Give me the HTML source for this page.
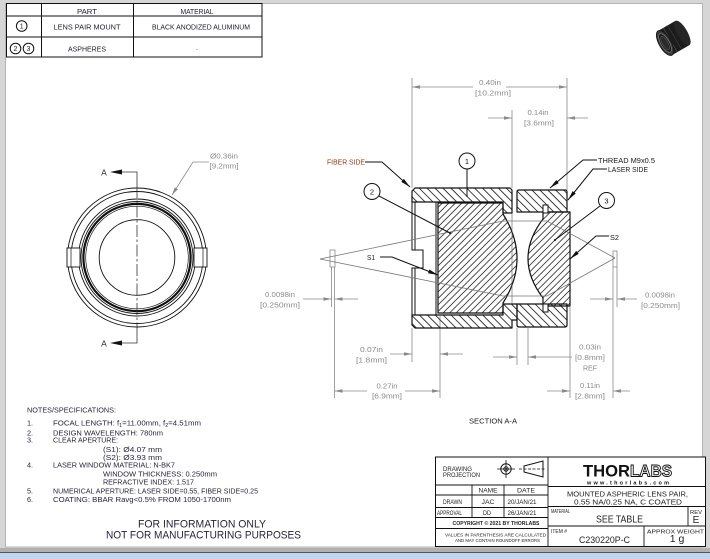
<!DOCTYPE html>
<html><head><meta charset="utf-8">
<style>
html,body{margin:0;padding:0;background:#d4d4d4;}
svg{display:block;}
text{font-family:"Liberation Sans",sans-serif;}
</style></head><body>
<svg width="710" height="559" viewBox="0 0 710 559" xmlns="http://www.w3.org/2000/svg">
<defs>
 <pattern id="hh" patternUnits="userSpaceOnUse" width="5.6" height="5.6" patternTransform="rotate(-45)"><line x1="1" y1="0" x2="1" y2="5.6" stroke="#111" stroke-width="0.8"/></pattern>
 <pattern id="hl" patternUnits="userSpaceOnUse" width="4.6" height="4.6" patternTransform="rotate(45)"><line x1="1" y1="0" x2="1" y2="4.6" stroke="#111" stroke-width="0.75"/></pattern>
 <marker id="ab" markerWidth="10" markerHeight="4" refX="10" refY="2" orient="auto" markerUnits="userSpaceOnUse"><path d="M0,0 L10,2 L0,4 Z" fill="#111"/></marker>
 <marker id="ag" markerWidth="8" markerHeight="3.6" refX="8" refY="1.8" orient="auto" markerUnits="userSpaceOnUse"><path d="M0,0 L8,1.8 L0,3.6 Z" fill="#8a8a8a"/></marker>
</defs>

<!-- window / sheet -->
<rect x="0" y="0" width="710" height="559" fill="#d6d6d6"/>
<rect x="5.5" y="3.5" width="697" height="543.5" fill="#fff" stroke="#b4b4b4" stroke-width="1"/>
<rect x="0" y="548" width="710" height="4" fill="#b0b0b0"/>
<line x1="0" y1="552.5" x2="710" y2="552.5" stroke="#555" stroke-width="1"/>
<rect x="0" y="553" width="710" height="6" fill="#c2d5ec"/>

<!-- parts table -->
<g fill="none" stroke="#111" stroke-width="1">
 <rect x="6.5" y="3.5" width="255.5" height="53.5"/>
 <line x1="6.5" y1="16" x2="262" y2="16"/>
 <line x1="6.5" y1="37" x2="262" y2="37"/>
 <line x1="41.5" y1="3.5" x2="41.5" y2="57"/>
 <line x1="133.5" y1="3.5" x2="133.5" y2="57"/>
 <circle cx="21.7" cy="26" r="5.3"/>
 <circle cx="15.5" cy="48.5" r="5.3"/>
 <circle cx="28.5" cy="48.5" r="5.3"/>
</g>
<g fill="#1b1b2b" font-size="7.2" text-anchor="middle">
 <text x="87" y="14" textLength="20" lengthAdjust="spacingAndGlyphs">PART</text>
 <text x="197" y="14" textLength="33" lengthAdjust="spacingAndGlyphs">MATERIAL</text>
 <text x="21.7" y="28.6" font-size="7">1</text>
 <text x="15.5" y="51.1" font-size="7">2</text>
 <text x="28.5" y="51.1" font-size="7">3</text>
 <text x="87" y="29.3" textLength="67" lengthAdjust="spacingAndGlyphs">LENS PAIR MOUNT</text>
 <text x="201" y="29.3" textLength="98" lengthAdjust="spacingAndGlyphs">BLACK ANODIZED ALUMINUM</text>
 <text x="87" y="51.5" textLength="38" lengthAdjust="spacingAndGlyphs">ASPHERES</text>
 <text x="197" y="51.5" fill="#999">-</text>
</g>

<!-- product image -->
<g transform="translate(672,39) rotate(-30)">
 <rect x="-8" y="-14" width="20" height="28" fill="#1c1c1c"/>
 <ellipse cx="12" cy="0" rx="5" ry="14" fill="#262626"/>
 <line x1="-2" y1="-14" x2="-2" y2="14" stroke="#555" stroke-width="0.6"/>
 <line x1="3" y1="-14" x2="3" y2="14" stroke="#444" stroke-width="0.6"/>
 <ellipse cx="-8" cy="0" rx="6" ry="14" fill="#3a3a3a" stroke="#111" stroke-width="0.8"/>
 <ellipse cx="-8" cy="0" rx="4.2" ry="10.5" fill="#1a1a1a" stroke="#888" stroke-width="0.6"/>
 <ellipse cx="-8" cy="0" rx="2.8" ry="7.5" fill="#2a2a2a" stroke="#666" stroke-width="0.5"/>
</g>

<!-- LEFT END VIEW -->
<g fill="none" stroke="#111" stroke-width="0.9">
 <circle cx="137" cy="257.5" r="69.5"/>
 <circle cx="137" cy="257.5" r="66"/>
 <circle cx="137" cy="257.5" r="58.5"/>
</g>
<rect x="67" y="248" width="13" height="19" fill="#fff" stroke="#111" stroke-width="0.9"/>
<rect x="194" y="248" width="13" height="19" fill="#fff" stroke="#111" stroke-width="0.9"/>
<g fill="none" stroke="#111">
 <line x1="71" y1="248" x2="71" y2="267" stroke-width="0.7"/>
 <line x1="203" y1="248" x2="203" y2="267" stroke-width="0.7"/>
 <circle cx="137" cy="257.5" r="56" stroke-width="0.9"/>
 <circle cx="137" cy="257.5" r="53.6" stroke-width="2.2"/>
 <circle cx="137" cy="257.5" r="51.3" stroke-width="0.7"/>
 <circle cx="137" cy="257.5" r="37.8" stroke-width="0.9"/>
</g>
<g stroke="#333" stroke-width="0.8" fill="none">
 <polyline points="122,172 137,172 137,186"/>
 <line x1="137" y1="186" x2="137" y2="328" stroke-dasharray="12 2.5 2.5 2.5"/>
 <polyline points="137,328 137,343 122,343"/>
</g>
<polygon points="110,172 122,169.5 122,174.5" fill="#111"/>
<polygon points="110,343 122,340.5 122,345.5" fill="#111"/>
<text x="104" y="175.5" font-size="8.5" fill="#223" text-anchor="middle">A</text>
<text x="104" y="346.5" font-size="8.5" fill="#223" text-anchor="middle">A</text>
<polyline points="209,162 193,162 172,195" fill="none" stroke="#8a8a8a" stroke-width="0.8" marker-end="url(#ag)"/>
<g fill="#8a8a8a" font-size="7.3" text-anchor="middle">
 <text x="224" y="158.5" textLength="28" lengthAdjust="spacingAndGlyphs">Ø0.36in</text>
 <text x="224" y="168.5" textLength="29" lengthAdjust="spacingAndGlyphs">[9.2mm]</text>
</g>

<!-- SECTION VIEW: extension lines & dims -->
<g stroke="#8a8a8a" stroke-width="0.8" fill="none">
 <line x1="412" y1="78" x2="412" y2="188"/>
 <line x1="567" y1="78" x2="567" y2="190"/>
 <line x1="512" y1="110" x2="512" y2="188"/>
 <line x1="473" y1="87" x2="412" y2="87" marker-end="url(#ag)"/>
 <line x1="506" y1="87" x2="567" y2="87" marker-end="url(#ag)"/>
 <line x1="488" y1="118" x2="512" y2="118" marker-end="url(#ag)"/>
 <line x1="588" y1="118" x2="567" y2="118" marker-end="url(#ag)"/>
 <!-- windows -->
 <rect x="330" y="250" width="5" height="17"/>
 <rect x="613" y="251" width="4" height="16"/>
 <line x1="331.5" y1="267" x2="331.5" y2="307"/>
 <line x1="334.5" y1="267" x2="334.5" y2="398"/>
 <line x1="613" y1="267" x2="613" y2="398"/>
 <line x1="617" y1="267" x2="617" y2="307"/>
 <line x1="303" y1="299" x2="331.5" y2="299" marker-end="url(#ag)"/>
 <line x1="358" y1="299" x2="334.5" y2="299" marker-end="url(#ag)"/>
 <line x1="590" y1="299" x2="613" y2="299" marker-end="url(#ag)"/>
 <line x1="637" y1="299" x2="617" y2="299" marker-end="url(#ag)"/>
 <!-- bottom ext -->
 <line x1="412" y1="328" x2="412" y2="362"/>
 <line x1="440" y1="316" x2="440" y2="398"/>
 <line x1="517" y1="328" x2="517" y2="365"/>
 <line x1="528" y1="328" x2="528" y2="365"/>
 <line x1="570" y1="307" x2="570" y2="398"/>
 <line x1="390" y1="354" x2="412" y2="354" marker-end="url(#ag)"/>
 <line x1="463" y1="354" x2="440" y2="354" marker-end="url(#ag)"/>
 <line x1="367" y1="391" x2="334.5" y2="391" marker-end="url(#ag)"/>
 <line x1="405" y1="391" x2="440" y2="391" marker-end="url(#ag)"/>
 <line x1="493" y1="357" x2="517" y2="357" marker-end="url(#ag)"/>
 <line x1="572" y1="357" x2="528" y2="357" marker-end="url(#ag)"/>
 <line x1="547" y1="391" x2="570" y2="391" marker-end="url(#ag)"/>
 <line x1="630" y1="391" x2="613" y2="391" marker-end="url(#ag)"/>
</g>
<g fill="#8a8a8a" font-size="7.5" text-anchor="middle">
 <text x="490" y="85" textLength="22" lengthAdjust="spacingAndGlyphs">0.40in</text>
 <text x="493" y="95.5" textLength="36" lengthAdjust="spacingAndGlyphs">[10.2mm]</text>
 <text x="538" y="115" textLength="21" lengthAdjust="spacingAndGlyphs">0.14in</text>
 <text x="539" y="125.5" textLength="30" lengthAdjust="spacingAndGlyphs">[3.6mm]</text>
 <text x="280" y="297" textLength="30" lengthAdjust="spacingAndGlyphs">0.0098in</text>
 <text x="280" y="307.5" textLength="40" lengthAdjust="spacingAndGlyphs">[0.250mm]</text>
 <text x="660" y="297.5" textLength="30" lengthAdjust="spacingAndGlyphs">0.0098in</text>
 <text x="660.5" y="308" textLength="39" lengthAdjust="spacingAndGlyphs">[0.250mm]</text>
 <text x="371.5" y="352" textLength="23" lengthAdjust="spacingAndGlyphs">0.07in</text>
 <text x="371.5" y="362.5" textLength="31" lengthAdjust="spacingAndGlyphs">[1.8mm]</text>
 <text x="387" y="388.5" textLength="21" lengthAdjust="spacingAndGlyphs">0.27in</text>
 <text x="387" y="398.5" textLength="30" lengthAdjust="spacingAndGlyphs">[6.9mm]</text>
 <text x="590" y="349.5" textLength="22" lengthAdjust="spacingAndGlyphs">0.03in</text>
 <text x="590" y="360" textLength="30" lengthAdjust="spacingAndGlyphs">[0.8mm]</text>
 <text x="590" y="370.5" textLength="14" lengthAdjust="spacingAndGlyphs">REF</text>
 <text x="590" y="388" textLength="20" lengthAdjust="spacingAndGlyphs">0.11in</text>
 <text x="590" y="398.5" textLength="30" lengthAdjust="spacingAndGlyphs">[2.8mm]</text>
</g>

<!-- SECTION VIEW: part -->
<g stroke="#111" stroke-width="1.2" fill="url(#hh)" stroke-linejoin="round">
 <path d="M412,191 L415,188 L510,188 L512,190 L512,213 L503,213 L503,202 L412,202 Z"/>
 <path d="M517,192 Q517,190 519,190 L565,190 Q567,190 567,192 L567,212 L517,212 Z"/>
 <path d="M412,315 L503,315 L503,304 L517,304 L517,320 L512,320 L512,328 L415,328 L412,325 Z"/>
 <path d="M517,304 L567,304 L567,325 Q567,327 565,327 L519,327 Q517,327 517,325 Z"/>
</g>
<g stroke="#111" stroke-width="1.2" fill="url(#hl)" stroke-linejoin="round">
 <path d="M438,203 L503,203 L503,214 Q531,258.5 503,303 L503,313 L438,313 Z"/>
 <path d="M543,212 L570,212 L570,306 L543,306 L543,298 Q513,258.5 543,219 Z"/>
</g>
<g stroke="#111" stroke-width="1" fill="none">
 <rect x="543" y="205" width="5" height="8" fill="#fff"/>
 <rect x="543" y="304" width="5" height="8" fill="#fff"/>
 <polyline points="412,202 412,250 423,250 423,268 412,268 412,315"/>
 <line x1="415" y1="202" x2="415" y2="250"/>
 <line x1="415" y1="268" x2="415" y2="315"/>
 <line x1="436" y1="202" x2="436" y2="315"/>
 <line x1="512" y1="213" x2="512" y2="304" stroke-width="0.6" stroke="#555"/>
</g>
<!-- rays -->
<g stroke="#777" stroke-width="0.8" fill="none">
 <polyline points="320,259 503,221 547,221 615,258"/>
 <polyline points="320,259 503,296 547,296 615,258"/>
</g>

<!-- leaders & balloons -->
<g stroke="#111" stroke-width="1" fill="none">
 <polyline points="365,162 382,162 410,187" marker-end="url(#ab)"/>
 <polyline points="597,160 583,160 550,188" marker-end="url(#ab)"/>
 <polyline points="607,169 593,169 568,200" marker-end="url(#ab)"/>
 <polyline points="380,257 392,257 438,275" marker-end="url(#ab)"/>
 <polyline points="609,236 596,236 570,259" marker-end="url(#ab)"/>
 <line x1="467" y1="169" x2="467" y2="197"/>
 <line x1="379" y1="196" x2="450" y2="233"/>
 <line x1="600" y1="206" x2="555" y2="240"/>
 <circle cx="467" cy="161" r="8" fill="#fff"/>
 <circle cx="372" cy="191.5" r="8" fill="#fff"/>
 <circle cx="606.5" cy="200.5" r="8" fill="#fff"/>
</g>
<circle cx="450" cy="233" r="1" fill="#111"/>
<circle cx="555" cy="240" r="1" fill="#111"/>
<g fill="#111" font-size="7.5" text-anchor="middle">
 <text x="467" y="164">1</text>
 <text x="372" y="194.5">2</text>
 <text x="606.5" y="203.5">3</text>
</g>
<g font-size="7" fill="#1a1a1a">
 <text x="327" y="164.5" fill="#8b3a1a" textLength="38" lengthAdjust="spacingAndGlyphs">FIBER SIDE</text>
 <text x="598" y="163" textLength="57" lengthAdjust="spacingAndGlyphs">THREAD M9x0.5</text>
 <text x="608" y="172" textLength="40" lengthAdjust="spacingAndGlyphs">LASER SIDE</text>
 <text x="367" y="260" textLength="8" lengthAdjust="spacingAndGlyphs">S1</text>
 <text x="610" y="240" textLength="9" lengthAdjust="spacingAndGlyphs">S2</text>
 <text x="493" y="423.5" text-anchor="middle" textLength="48" lengthAdjust="spacingAndGlyphs">SECTION A-A</text>
</g>

<!-- NOTES -->
<g fill="#26263a" font-size="7.3">
 <text x="27" y="412.7" textLength="89" lengthAdjust="spacingAndGlyphs">NOTES/SPECIFICATIONS:</text>
 <text x="27" y="425.5">1.</text>
 <text x="53" y="425.5" textLength="148" lengthAdjust="spacingAndGlyphs">FOCAL LENGTH: f<tspan font-size="5" dy="1.5">1</tspan><tspan dy="-1.5">=11.00mm, f</tspan><tspan font-size="5" dy="1.5">2</tspan><tspan dy="-1.5">=4.51mm</tspan></text>
 <text x="27" y="435.3">2.</text>
 <text x="53" y="435.3" textLength="110" lengthAdjust="spacingAndGlyphs">DESIGN WAVELENGTH: 780nm</text>
 <text x="27" y="442.7">3.</text>
 <text x="53" y="442.7" textLength="65" lengthAdjust="spacingAndGlyphs">CLEAR APERTURE:</text>
 <text x="103" y="452" textLength="59" lengthAdjust="spacingAndGlyphs">(S1): Ø4.07 mm</text>
 <text x="103" y="460" textLength="59" lengthAdjust="spacingAndGlyphs">(S2): Ø3.93 mm</text>
 <text x="27" y="467.7">4.</text>
 <text x="53" y="467.7" textLength="122" lengthAdjust="spacingAndGlyphs">LASER WINDOW MATERIAL: N-BK7</text>
 <text x="103" y="476.7" textLength="114" lengthAdjust="spacingAndGlyphs">WINDOW THICKNESS: 0.250mm</text>
 <text x="103" y="484.3" textLength="91" lengthAdjust="spacingAndGlyphs">REFRACTIVE INDEX: 1.517</text>
 <text x="27" y="493.3">5.</text>
 <text x="53" y="493.3" textLength="205" lengthAdjust="spacingAndGlyphs">NUMERICAL APERTURE: LASER SIDE=0.55, FIBER SIDE=0.25</text>
 <text x="27" y="502">6.</text>
 <text x="53" y="502" textLength="178" lengthAdjust="spacingAndGlyphs">COATING: BBAR Ravg&lt;0.5% FROM 1050-1700nm</text>
</g>
<g fill="#26263a" font-size="11" text-anchor="middle">
 <text x="202" y="527.5" textLength="128" lengthAdjust="spacingAndGlyphs">FOR INFORMATION ONLY</text>
 <text x="203.5" y="538.3" textLength="195" lengthAdjust="spacingAndGlyphs">NOT FOR MANUFACTURING PURPOSES</text>
</g>

<!-- TITLE BLOCK -->
<rect x="435.5" y="457" width="270" height="89.5" fill="#fff" stroke="#111" stroke-width="1"/>
<g stroke="#111" stroke-width="0.9" fill="none">
 <line x1="548" y1="457" x2="548" y2="546.5"/>
 <line x1="435.5" y1="485" x2="548" y2="485"/>
 <line x1="435.5" y1="495" x2="548" y2="495"/>
 <line x1="435.5" y1="507.5" x2="548" y2="507.5"/>
 <line x1="435.5" y1="517.5" x2="548" y2="517.5"/>
 <line x1="435.5" y1="528.5" x2="548" y2="528.5"/>
 <line x1="472" y1="485" x2="472" y2="517.5"/>
 <line x1="504" y1="485" x2="504" y2="517.5"/>
 <line x1="548" y1="486.5" x2="705.5" y2="486.5"/>
 <line x1="548" y1="506.5" x2="705.5" y2="506.5"/>
 <line x1="548" y1="526" x2="705.5" y2="526"/>
 <line x1="688" y1="506.5" x2="688" y2="526"/>
 <line x1="644" y1="526" x2="644" y2="546.5"/>
 <!-- projection symbol -->
 <circle cx="506" cy="469" r="5.2" stroke-width="1"/>
 <circle cx="506" cy="469" r="2.2" stroke-width="1"/>
 <line x1="497" y1="469" x2="515" y2="469" stroke-width="0.8"/>
 <line x1="506" y1="460" x2="506" y2="478" stroke-width="0.8"/>
 <polygon points="524,466 543,461 543,477 524,472" stroke-width="1"/>
 <line x1="519" y1="469" x2="546" y2="469" stroke-width="0.7" stroke-dasharray="3 1.5"/>
</g>
<circle cx="506" cy="469" r="1" fill="#111"/>
<g fill="#222" font-size="6.2">
 <text x="443" y="471" textLength="29" lengthAdjust="spacingAndGlyphs">DRAWING</text>
 <text x="443" y="477" textLength="37" lengthAdjust="spacingAndGlyphs">PROJECTION</text>
</g>
<g fill="#222" font-size="6" text-anchor="middle">
 <text x="488" y="492.5" textLength="19" lengthAdjust="spacingAndGlyphs">NAME</text>
 <text x="526" y="492.5" textLength="18" lengthAdjust="spacingAndGlyphs">DATE</text>
 <text x="452.5" y="504" textLength="19" lengthAdjust="spacingAndGlyphs">DRAWN</text>
 <text x="488" y="504" textLength="13" lengthAdjust="spacingAndGlyphs">JAC</text>
 <text x="522" y="504" textLength="29" lengthAdjust="spacingAndGlyphs">20/JAN/21</text>
 <text x="449.5" y="515" textLength="25" lengthAdjust="spacingAndGlyphs">APPROVAL</text>
 <text x="487" y="515" textLength="8" lengthAdjust="spacingAndGlyphs">DD</text>
 <text x="522" y="515" textLength="29" lengthAdjust="spacingAndGlyphs">26/JAN/21</text>
 <text x="496" y="525" font-size="5" font-weight="bold" textLength="87" lengthAdjust="spacingAndGlyphs">COPYRIGHT © 2021 BY THORLABS</text>
 <text x="495.5" y="536.5" font-size="4.8" textLength="101" lengthAdjust="spacingAndGlyphs">VALUES IN PARENTHESIS ARE CALCULATED</text>
 <text x="497.5" y="541.8" font-size="4.8" textLength="85" lengthAdjust="spacingAndGlyphs">AND MAY CONTAIN ROUNDOFF ERRORS</text>
</g>
<!-- logo -->
<text x="583" y="476.5" font-size="17" font-weight="bold" fill="#111" textLength="47" lengthAdjust="spacingAndGlyphs">THOR</text>
<text x="630" y="476.5" font-size="17" font-weight="bold" fill="#fff" stroke="#111" stroke-width="1" textLength="42" lengthAdjust="spacingAndGlyphs">LABS</text>
<text x="587" y="484.5" font-size="5.5" font-weight="bold" fill="#111" textLength="82" lengthAdjust="spacing">www.thorlabs.com</text>
<g fill="#222" text-anchor="middle">
 <text x="627.5" y="496.5" font-size="7.5" textLength="121" lengthAdjust="spacingAndGlyphs">MOUNTED ASPHERIC LENS PAIR,</text>
 <text x="628" y="504.5" font-size="7.5" textLength="108" lengthAdjust="spacingAndGlyphs">0.55 NA/0.25 NA, C COATED</text>
 <text x="619.5" y="522.5" font-size="10.5" textLength="47" lengthAdjust="spacingAndGlyphs">SEE TABLE</text>
 <text x="696" y="514" font-size="5.5" textLength="12" lengthAdjust="spacingAndGlyphs">REV</text>
 <text x="696" y="523" font-size="10">E</text>
 <text x="604.5" y="543" font-size="9" textLength="51" lengthAdjust="spacingAndGlyphs">C230220P-C</text>
 <text x="675.5" y="533.3" font-size="5.8" textLength="57" lengthAdjust="spacingAndGlyphs">APPROX WEIGHT</text>
 <text x="677" y="542" font-size="10.5">1 g</text>
</g>
<g fill="#222" font-size="5.5">
 <text x="551" y="513" textLength="19" lengthAdjust="spacingAndGlyphs">MATERIAL</text>
 <text x="551" y="533" textLength="16" lengthAdjust="spacingAndGlyphs">ITEM #</text>
</g>
</svg>
</body></html>
